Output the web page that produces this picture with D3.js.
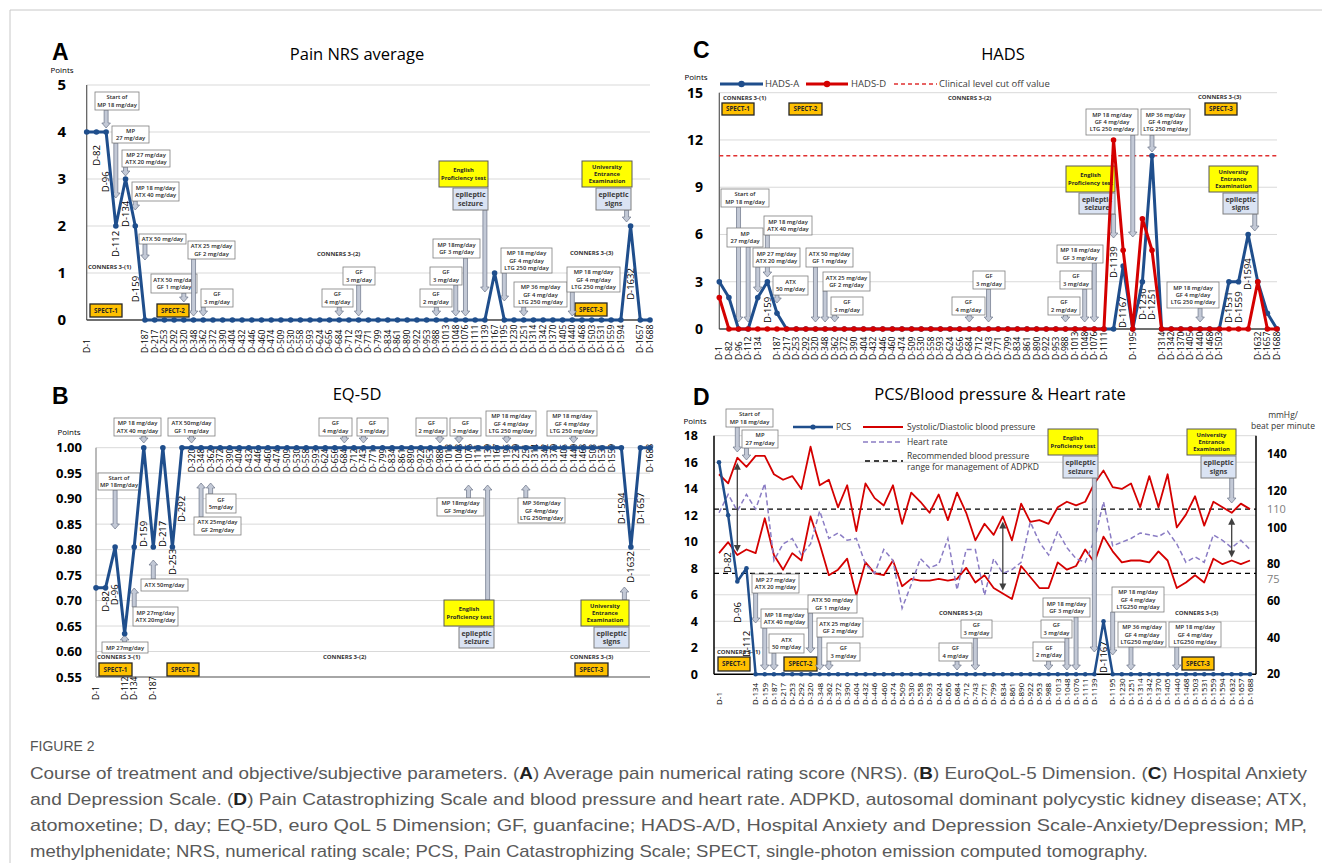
<!DOCTYPE html>
<html><head><meta charset="utf-8">
<script src="https://cdn.jsdelivr.net/npm/d3@7"></script>
<style>body{margin:0;background:#fff}svg{display:block}</style>
</head><body>
<svg id="chart" width="1322" height="863"></svg>
<script>
// ---------------- DATA ----------------
const categories = ["D-1","D-82","D-96","D-112","D-134","D-159","D-187","D-217","D-253","D-292",
 "D-320","D-348","D-362","D-372","D-390","D-404","D-432","D-446","D-460","D-474",
 "D-509","D-530","D-558","D-593","D-624","D-656","D-684","D-712","D-743","D-771",
 "D-799","D-834","D-861","D-890","D-922","D-953","D-988","D-1013","D-1048","D-1076",
 "D-1111","D-1139","D-1167","D-1195","D-1230","D-1251","D-1314","D-1342","D-1370","D-1405",
 "D-1440","D-1468","D-1503","D-1531","D-1559","D-1594","D-1632","D-1657","D-1688"];

const nrsValues = [4,4,4,2,3,2,0,0,0,0, 0,0,0,0,0,0,0,0,0,0, 0,0,0,0,0,0,0,0,0,0,
 0,0,0,0,0,0,0,0,0,0, 0,0,1,0,0,0,0,0,0,0, 0,0,0,0,0,0,2,0,0];

const eq5dValues = [0.725,0.725,0.805,0.635,0.805,1,0.805,1,0.805,1, 1,1,1,1,1,1,1,1,1,1,
 1,1,1,1,1,1,1,1,1,1, 1,1,1,1,1,1,1,1,1,1, 1,1,1,1,1,1,1,1,1,1, 1,1,1,1,1,1,0.805,1,1];

const hadsA = [3,2,0,0,2,3,1,0,0,0, 0,0,0,0,0,0,0,0,0,0, 0,0,0,0,0,0,0,0,0,0,
 0,0,0,0,0,0,0,0,0,0, 0,0,4,0,3,11,0,0,0,0, 0,0,0,3,3,6,3,1,0];
const hadsD = [2,0,0,0,0,0,0,0,0,0, 0,0,0,0,0,0,0,0,0,0, 0,0,0,0,0,0,0,0,0,0,
 0,0,0,0,0,0,0,0,0,0, 0,12,5,0,7,5,0,0,0,0, 0,0,0,0,0,0,3,0,0];
const hadsCutoff = 11;

const pcsValues = [16,12,7,8,0,0,0,0,0,0, 0,0,0,0,0,0,0,0,0,0, 0,0,0,0,0,0,0,0,0,0,
 0,0,0,0,0,0,0,0,0,0, 0,0,4,0,0,0,0,0,0,0, 0,0,0,0,0,0,0,0,0];
const systolic = [129,124,138,133,139,139,129,126,128,121, 144,123,126,111,123,98,124,116,112,123,
 102,119,114,108,118,104,119,108,93,102, 96,106,93,113,103,104,102,111,114,112,
 114,124,131,122,121,124,111,128,111,129, 100,107,117,101,114,111,108,113,110];
const diastolic = [86,92,85,88,86,105,85,77,86,82, 106,91,74,77,83,63,81,75,74,82,
 68,72,71,71,72,71,72,78,70,74, 67,64,61,79,73,67,67,81,77,79,
 88,81,95,87,81,82,82,81,87,82, 67,70,74,70,83,80,82,80,82];
const heartRate = [108,118,109,118,110,124,82,91,94,85, 91,109,94,97,93,94,80,75,88,82,
 56,69,83,78,80,94,66,88,88,63, 83,75,77,81,103,92,85,98,89,83,
 81,93,114,90,92,94,97,96,95,98, 91,81,84,81,96,93,89,93,88];
const bpRange = [75, 110];

const nrsTicks = [0,1,2,3,4,5];
const eq5dTicks = [0.55,0.60,0.65,0.70,0.75,0.80,0.85,0.90,0.95,1.00];
const hadsTicks = [0,3,6,9,12,15];
const pcsTicks = [0,2,4,6,8,10,12,14,16,18];
const bpTicks = [20,40,60,80,100,120,140];

// ---------------- STYLE ----------------
const svg = d3.select("#chart");
const FONT = "'Open Sans', 'Noto Sans', sans-serif";
const BLUE = "#1f4e8c", RED = "#d40000", PURPLE = "#8a7cc4", GRID = "#d9d9d9";
const bstyles = {
  drug:   {fill:"#fff", stroke:"#7f7f7f", sw:0.8, fs:5.8, fw:600, color:"#262626"},
  yellow: {fill:"#ffff00", stroke:"#595959", sw:1, fs:5.8, fw:700, color:"#262626"},
  blue:   {fill:"#dae3f3", stroke:"#7f7f7f", sw:1, fs:7, fw:700, color:"#3a3a3a"},
  spect:  {fill:"#ffc000", stroke:"#262626", sw:1.3, fs:6.2, fw:700, color:"#262626"}
};

function txt(g, x, y, t, o={}) {
  return g.append("text").attr("x",x).attr("y",y).text(t)
    .attr("font-family", o.ff||FONT).attr("font-size", o.fs||10)
    .attr("font-weight", o.fw||400).attr("fill", o.fill||"#000")
    .attr("text-anchor", o.anchor||"start");
}
function box(g, b, lines, st) {
  const s = bstyles[st];
  g.append("rect").attr("x",b[0]).attr("y",b[1]).attr("width",b[2]).attr("height",b[3])
    .attr("fill",s.fill).attr("stroke",s.stroke).attr("stroke-width",s.sw);
  const n = lines.length, lh = s.fs*1.22, cy = b[1]+b[3]/2;
  lines.forEach((t,k)=> txt(g, b[0]+b[2]/2, cy+(k-(n-1)/2)*lh, t, {fs:s.fs, fw:s.fw, fill:s.color, anchor:"middle"}).attr("dy","0.35em"));
}
function blockArrow(g, x, y1, y2) {
  const dir = Math.sign(y2-y1), hl = 5*dir, sw = 2, hw = 4.3, yb = y2-hl;
  const p = [[x-sw,y1],[x+sw,y1],[x+sw,yb],[x+hw,yb],[x,y2],[x-hw,yb],[x-sw,yb]];
  g.append("path").attr("d","M"+p.map(q=>q.join(",")).join("L")+"Z")
    .attr("fill","#c3c9d6").attr("stroke","#6a7386").attr("stroke-width",0.7);
}
function annotate(g, x, anns) {
  anns.forEach(a => {
    const ax = x(categories[a.c]) + (a.dx||0);
    if (a.ev) {
      blockArrow(g, ax, a.from, a.tip);
      box(g, a.yb, a.yt, "yellow");
      box(g, a.eb, a.et, "blue");
    } else {
      const bottom = a.b[1]+a.b[3];
      const from = a.tip > bottom ? bottom : a.b[1];
      blockArrow(g, ax, from, a.tip);
      box(g, a.b, a.t, "drug");
    }
  });
}
function marks(g, extra) {
  extra.texts.forEach(t => txt(g, t[1], t[2], t[0], {fs:6, fw:700, fill:"#333"}));
  extra.spect.forEach(s => box(g, s[1], [s[0]], "spect"));
}
function yAxis(g, y, ticks, fmt, xPos, fs) {
  const ax = g.append("g").attr("transform",`translate(${xPos},0)`)
    .call(d3.axisLeft(y).tickValues(ticks).tickFormat(fmt).tickSize(0).tickPadding(0));
  ax.select(".domain").remove();
  ax.selectAll("text").attr("font-family",FONT).attr("font-size",fs).attr("font-weight",700).attr("fill","#000");
}
function grid(g, y, ticks, x1, x2) {
  g.selectAll(null).data(ticks).join("line").attr("x1",x1).attr("x2",x2)
    .attr("y1",d=>y(d)).attr("y2",d=>y(d)).attr("stroke",GRID).attr("stroke-width",1);
}
function xLabels(g, x, posFn, fs) {
  categories.forEach(c => {
    const yb = posFn(c);
    if (yb == null) return;
    g.append("text").attr("transform",`translate(${x(c)},${yb}) rotate(-90)`)
      .attr("dy","0.35em").attr("font-family",FONT).attr("font-size",fs).attr("fill","#000").text(c);
  });
}
function series(g, x, y, vals, color, w, r) {
  const line = d3.line().x((d,i)=>x(categories[i])).y(d=>y(d));
  g.append("path").datum(vals).attr("d",line).attr("fill","none").attr("stroke",color)
    .attr("stroke-width",w).attr("stroke-linejoin","round");
  if (r) g.selectAll(null).data(vals).join("circle").attr("cx",(d,i)=>x(categories[i]))
    .attr("cy",d=>y(d)).attr("r",r).attr("fill",color);
}

// ---------------- FRAME ----------------
svg.append("line").attr("x1",10).attr("x2",10).attr("y1",10).attr("y2",863).attr("stroke","#c8c8c8");
svg.append("line").attr("x1",10).attr("x2",1322).attr("y1",10).attr("y2",10).attr("stroke","#c8c8c8");

// ---------------- PANEL A ----------------
{
  const g = svg.append("g");
  const x = d3.scalePoint().domain(categories).range([86.7, 650]);
  const y = d3.scaleLinear().domain([0,5]).range([320, 85]);
  txt(g, 52, 60, "A", {ff:"'Liberation Sans', Arial, sans-serif", fs:23, fw:700});
  txt(g, 357, 60, "Pain NRS average", {fs:16.5, anchor:"middle"});
  txt(g, 62, 73, "Points", {fs:8, anchor:"middle"});
  grid(g, y, nrsTicks.slice(1), 86.7, 650);
  yAxis(g, y, nrsTicks, d3.format("d"), 66, 15);
  g.append("line").attr("x1",86.7).attr("x2",86.7).attr("y1",85).attr("y2",320).attr("stroke","#595959").attr("stroke-width",1.2);
  g.append("line").attr("x1",86.7).attr("x2",650).attr("y1",320).attr("y2",320).attr("stroke","#404040").attr("stroke-width",1.5);
  const near = {"D-82":3.28,"D-96":2.72,"D-112":1.34,"D-134":1.98,"D-159":0.38,"D-1632":0.43};
  xLabels(g, x, c => near[c]!==undefined ? null : 353, 8.5);
  xLabels(g, x, c => near[c]!==undefined ? y(near[c]) : null, 9.5);
  marks(g, {texts:[["CONNERS 3-(1)",88,269],["CONNERS 3-(2)",317,256],["CONNERS 3-(3)",570,255]],
    spect:[["SPECT-1",[90,304,32,13]],["SPECT-2",[157,304,32,13]],["SPECT-3",[575,303,32,13]]]});
  annotate(g, x, [
    {t:["Start of","MP 18 mg/day"], b:[95,92,44,18], c:2, tip:128},
    {t:["MP","27 mg/day"], b:[112,126,37,17], c:3, tip:198},
    {t:["MP 27 mg/day","ATX 20 mg/day"], b:[122,150,48,17], c:4, tip:176},
    {t:["MP 18 mg/day","ATX 40 mg/day"], b:[132,182,47,19], c:5, tip:210},
    {t:["ATX 50 mg/day"], b:[139,234,47,10], c:6, tip:260},
    {t:["ATX 50 mg/day","GF 1 mg/day"], b:[151,274,46,19], c:10, tip:302},
    {t:["ATX 25 mg/day","GF 2 mg/day"], b:[188,241,47,18], c:11, tip:316},
    {t:["GF","3 mg/day"], b:[201,289,32,18], c:12, tip:316},
    {t:["GF","4 mg/day"], b:[322,289,31,18], c:26, tip:316},
    {t:["GF","3 mg/day"], b:[343,267,32,18], c:28, tip:316},
    {t:["GF","2 mg/day"], b:[420,289,32,18], c:36, tip:316},
    {t:["GF","3 mg/day"], b:[430,267,32,18], c:38, tip:316},
    {t:["MP 18mg/day","GF 3 mg/day"], b:[433,239,47,19], c:39, tip:316},
    {t:["MP 18 mg/day","GF 4 mg/day","LTG 250 mg/day"], b:[501,248,51,25], c:43, tip:301},
    {t:["MP 36 mg/day","GF 4 mg/day","LTG 250 mg/day"], b:[514,282,53,25], c:45, tip:316},
    {t:["MP 18 mg/day","GF 4 mg/day","LTG 250 mg/day"], b:[567,267,53,25], c:50, tip:316},
    {ev:true, yt:["English","Proficiency test"], yb:[439,161,49,26], et:["epileptic","seizure"], eb:[453,188,35,22], c:41, from:210, tip:292},
    {ev:true, yt:["University","Entrance","Examination"], yb:[582,161,50,26], et:["epileptic","signs"], eb:[596,188,35,22], c:56, dx:-4, from:210, tip:222}
  ]);
  series(g, x, y, nrsValues, BLUE, 3, 2.8);
}

// ---------------- PANEL B ----------------
{
  const g = svg.append("g");
  const x = d3.scalePoint().domain(categories).range([96, 650]);
  const y = d3.scaleLinear().domain([0.55,1.0]).range([677, 447.7]);
  txt(g, 52, 404, "B", {ff:"'Liberation Sans', Arial, sans-serif", fs:23, fw:700});
  txt(g, 357, 400, "EQ-5D", {fs:16.5, anchor:"middle"});
  txt(g, 69, 435, "Points", {fs:8, anchor:"middle"});
  grid(g, y, eq5dTicks.slice(1), 96, 650);
  yAxis(g, y, eq5dTicks, d3.format(".2f"), 82, 13);
  g.append("line").attr("x1",96).attr("x2",96).attr("y1",447.7).attr("y2",677).attr("stroke","#8c8c8c").attr("stroke-width",1.2);
  g.append("line").attr("x1",96).attr("x2",650).attr("y1",677).attr("y2",677).attr("stroke","#a6a6a6").attr("stroke-width",2);
  const near = {"D-82":0.678,"D-96":0.691,"D-159":0.805,"D-217":0.805,"D-253":0.75,"D-292":0.854,"D-1594":0.85,"D-1657":0.85,"D-1632":0.735};
  const bottomRow = ["D-1","D-112","D-134","D-187"];
  xLabels(g, x, c => near[c]!==undefined ? null : (bottomRow.includes(c) ? 700 : y(0.952)), 8.5);
  xLabels(g, x, c => near[c]!==undefined ? y(near[c]) : null, 9.5);
  marks(g, {texts:[["CONNERS 3-(1)",97,659],["CONNERS 3-(2)",323,659],["CONNERS 3-(3)",570,659]],
    spect:[["SPECT-1",[99,663,33,13]],["SPECT-2",[167,663,32,13]],["SPECT-3",[575,663,33,13]]]});
  annotate(g, x, [
    {t:["MP 18 mg/day","ATX 40 mg/day"], b:[114,418,47,18], c:5, tip:443},
    {t:["ATX 50mg/day","GF 1 mg/day"], b:[168,418,47,18], c:10, tip:443},
    {t:["GF","4 mg/day"], b:[319,418,33,18], c:26, tip:443},
    {t:["GF","3 mg/day"], b:[357,418,31,18], c:28, tip:443},
    {t:["GF","2 mg/day"], b:[416,418,31,18], c:36, tip:443},
    {t:["GF","3 mg/day"], b:[450,418,31,18], c:38, tip:443},
    {t:["MP 18 mg/day","GF 4 mg/day","LTG 250 mg/day"], b:[486,411,50,25], c:43, tip:443},
    {t:["MP 18 mg/day","GF 4 mg/day","LTG 250 mg/day"], b:[547,411,50,25], c:50, tip:443},
    {t:["Start of","MP 18mg/day"], b:[98,473,42,17], c:2, tip:529},
    {t:["ATX 25mg/day","GF 2mg/day"], b:[194,517,47,18], c:11, tip:483},
    {t:["GF","5mg/day"], b:[206,494,30,19], c:12, tip:483},
    {t:["ATX 50mg/day"], b:[141,579,47,12], c:6, tip:560},
    {t:["MP 27mg/day","ATX 20mg/day"], b:[133,607,45,19], c:4, tip:588},
    {t:["MP 27mg/day"], b:[102,642,46,11], c:3, tip:635},
    {t:["MP 18mg/day","GF 3mg/day"], b:[437,498,47,18], c:39, tip:485},
    {t:["MP 36mg/day","GF 4mg/day","LTG 250mg/day"], b:[518,498,47,25], c:45, tip:485},
    {ev:true, yt:["English","Proficiency test"], yb:[444,600,50,26], et:["epileptic","seizure"], eb:[459,627,35,21], c:41, from:600, tip:485},
    {ev:true, yt:["University","Entrance","Examination"], yb:[581,600,48,26], et:["epileptic","signs"], eb:[594,627,35,21], c:56, dx:-6.5, from:600, tip:587}
  ]);
  series(g, x, y, eq5dValues, BLUE, 3, 2.8);
}

// ---------------- PANEL C ----------------
{
  const g = svg.append("g");
  const x = d3.scalePoint().domain(categories).range([719.3, 1277]);
  const y = d3.scaleLinear().domain([0,15]).range([329, 92.7]);
  txt(g, 693, 58, "C", {ff:"'Liberation Sans', Arial, sans-serif", fs:23, fw:700});
  txt(g, 1003, 60, "HADS", {fs:16.5, anchor:"middle"});
  txt(g, 696, 80, "Points", {fs:8, anchor:"middle"});
  grid(g, y, hadsTicks.slice(1), 719.3, 1277);
  yAxis(g, y, hadsTicks, d3.format("d"), 703, 14);
  g.append("line").attr("x1",719.3).attr("x2",719.3).attr("y1",92.7).attr("y2",329).attr("stroke","#595959").attr("stroke-width",1.2);
  g.append("line").attr("x1",719.3).attr("x2",1277).attr("y1",329).attr("y2",329).attr("stroke","#404040").attr("stroke-width",1.5);
  g.append("line").attr("x1",719.3).attr("x2",1277).attr("y1",y(hadsCutoff)).attr("y2",y(hadsCutoff))
    .attr("stroke","#e03030").attr("stroke-width",1.5).attr("stroke-dasharray","4,3");
  // legend
  const ly = 84;
  g.append("line").attr("x1",720).attr("x2",763).attr("y1",ly).attr("y2",ly).attr("stroke",BLUE).attr("stroke-width",3);
  g.append("circle").attr("cx",741.5).attr("cy",ly).attr("r",3.2).attr("fill",BLUE);
  txt(g, 765, ly, "HADS-A", {fs:9.5, fill:"#404040"}).attr("dy","0.35em");
  g.append("line").attr("x1",806).attr("x2",848).attr("y1",ly).attr("y2",ly).attr("stroke",RED).attr("stroke-width",3);
  g.append("circle").attr("cx",827).attr("cy",ly).attr("r",3.2).attr("fill",RED);
  txt(g, 851, ly, "HADS-D", {fs:9.5, fill:"#404040"}).attr("dy","0.35em");
  g.append("line").attr("x1",894).attr("x2",937).attr("y1",ly).attr("y2",ly).attr("stroke","#e03030").attr("stroke-width",1.5).attr("stroke-dasharray","4,3");
  txt(g, 939, ly, "Clinical level cut off value", {fs:9.5, fill:"#404040"}).attr("dy","0.35em");
  const near = {"D-159":0.38,"D-1139":3.24,"D-1167":0.06,"D-1230":0.57,"D-1251":0.57,"D-1531":0.38,"D-1559":0.38,"D-1594":2.48};
  xLabels(g, x, c => near[c]!==undefined ? null : 360, 8.5);
  xLabels(g, x, c => near[c]!==undefined ? y(near[c]) : null, 9.5);
  marks(g, {texts:[["CONNERS 3-(1)",723,100],["CONNERS 3-(2)",948,100],["CONNERS 3-(3)",1198,99]],
    spect:[["SPECT-1",[722,103,32,12]],["SPECT-2",[789,103,33,12]],["SPECT-3",[1205,103,32,12]]]});
  annotate(g, x, [
    {t:["Start of","MP 18 mg/day"], b:[721,189,48,18], c:2, tip:322},
    {t:["MP","27 mg/day"], b:[727,228,36,19], c:3, tip:322},
    {t:["MP 18 mg/day","ATX 40 mg/day"], b:[764,216,48,19], c:5, tip:277},
    {t:["MP 27 mg/day","ATX 20 mg/day"], b:[753,248,47,19], c:4, tip:292},
    {t:["ATX","50 mg/day"], b:[773,276,35,19], c:6, tip:303},
    {t:["ATX 50 mg/day","GF 1 mg/day"], b:[806,248,47,19], c:10, tip:322},
    {t:["ATX 25 mg/day","GF 2 mg/day"], b:[823,272,47,19], c:11, tip:322},
    {t:["GF","3 mg/day"], b:[831,297,32,18], c:12, tip:322},
    {t:["GF","4 mg/day"], b:[952,297,33,18], c:26, tip:322},
    {t:["GF","3 mg/day"], b:[973,271,32,18], c:28, tip:322},
    {t:["GF","2 mg/day"], b:[1048,297,32,18], c:36, tip:322},
    {t:["GF","3 mg/day"], b:[1060,271,32,18], c:38, tip:322},
    {t:["MP 18 mg/day","GF 3 mg/day"], b:[1057,245,46,18], c:39, tip:322},
    {t:["MP 18 mg/day","GF 4 mg/day","LTG 250 mg/day"], b:[1086,109,52,26], c:43, tip:237},
    {t:["MP 36 mg/day","GF 4 mg/day","LTG 250 mg/day"], b:[1141,109,49,26], c:45, tip:152},
    {t:["MP 18 mg/day","GF 4 mg/day","LTG 250 mg/day"], b:[1167,282,52,26], c:50, tip:322},
    {ev:true, yt:["English","Proficiency test"], yb:[1066,166,49,26], et:["epileptic","seizure"], eb:[1079,193,36,21], c:41, from:214, tip:238},
    {ev:true, yt:["University","Entrance","Examination"], yb:[1209,166,49,26], et:["epileptic","signs"], eb:[1223,193,35,21], c:55, dx:6.6, from:214, tip:231}
  ]);
  series(g, x, y, hadsA, BLUE, 3, 2.8);
  series(g, x, y, hadsD, RED, 3, 2.8);
}

// ---------------- PANEL D ----------------
{
  const g = svg.append("g");
  const x = d3.scalePoint().domain(categories).range([719, 1250]);
  const y = d3.scaleLinear().domain([0,18]).range([674.3, 435.7]);
  const yR = d3.scaleLinear().domain([20,150]).range([674.3, 435.7]);
  txt(g, 693, 405, "D", {ff:"'Liberation Sans', Arial, sans-serif", fs:23, fw:700});
  txt(g, 1000, 400, "PCS/Blood pressure & Heart rate", {fs:16.5, anchor:"middle"});
  txt(g, 695, 424, "Points", {fs:8, anchor:"middle"});
  txt(g, 1283, 418, "mmHg/", {fs:8.5, anchor:"middle", fill:"#333"});
  txt(g, 1283, 429, "beat per minute", {fs:8.5, anchor:"middle", fill:"#333"});
  grid(g, y, pcsTicks.slice(1), 714, 1256);
  yAxis(g, y, pcsTicks, d3.format("d"), 698, 12.5);
  const ra = g.append("g").attr("transform","translate(1267,0)")
    .call(d3.axisRight(yR).tickValues(bpTicks).tickFormat(d3.format("d")).tickSize(0).tickPadding(0));
  ra.select(".domain").remove();
  ra.selectAll("text").attr("font-family",FONT).attr("font-size",11.5).attr("font-weight",700).attr("fill","#000");
  // grey reference labels, nudged apart from the bold ticks like the original
  [[110,0],[75,5.5]].forEach(([v,off]) => txt(g, 1267, yR(v)+off, String(v), {fs:11, fill:"#808080"}).attr("dy","0.35em"));
  g.append("line").attr("x1",714).attr("x2",714).attr("y1",435.7).attr("y2",674.3).attr("stroke","#000").attr("stroke-width",1.5);
  g.append("line").attr("x1",1256).attr("x2",1256).attr("y1",435.7).attr("y2",674.3).attr("stroke","#000").attr("stroke-width",1.5);
  g.append("line").attr("x1",714).attr("x2",1256).attr("y1",674.3).attr("y2",674.3).attr("stroke","#000").attr("stroke-width",1.5);
  bpRange.forEach(v => g.append("line").attr("x1",714).attr("x2",1256).attr("y1",yR(v)).attr("y2",yR(v))
    .attr("stroke","#000").attr("stroke-width",1.3).attr("stroke-dasharray","5,4"));
  // legend
  g.append("line").attr("x1",793).attr("x2",833).attr("y1",427).attr("y2",427).attr("stroke",BLUE).attr("stroke-width",2.5);
  g.append("circle").attr("cx",813).attr("cy",427).attr("r",2.6).attr("fill",BLUE);
  txt(g, 836, 427, "PCS", {fs:8.5, fill:"#333"}).attr("dy","0.35em");
  g.append("line").attr("x1",863).attr("x2",903).attr("y1",427).attr("y2",427).attr("stroke",RED).attr("stroke-width",1.8);
  txt(g, 907, 427, "Systolic/Diastolic blood pressure", {fs:8.5, fill:"#333"}).attr("dy","0.35em");
  g.append("line").attr("x1",863).attr("x2",903).attr("y1",442).attr("y2",442).attr("stroke",PURPLE).attr("stroke-width",1.5).attr("stroke-dasharray","5,3");
  txt(g, 907, 442, "Heart rate", {fs:8.5, fill:"#333"}).attr("dy","0.35em");
  g.append("line").attr("x1",865).attr("x2",903).attr("y1",461).attr("y2",461).attr("stroke","#000").attr("stroke-width",1.3).attr("stroke-dasharray","5,4");
  txt(g, 907, 456, "Recommended blood pressure", {fs:8.5, fill:"#333"}).attr("dy","0.35em");
  txt(g, 907, 467, "range for management of ADPKD", {fs:8.5, fill:"#333"}).attr("dy","0.35em");
  // x labels
  const near = {"D-82":7.64,"D-96":3.87,"D-112":1.3,"D-1167":0.1};
  xLabels(g, x, c => near[c]!==undefined ? null : 705, 8);
  xLabels(g, x, c => near[c]!==undefined ? y(near[c]) : null, 9.5);
  // series BP & HR
  series(g, x, yR, systolic, RED, 1.8, 0);
  series(g, x, yR, diastolic, RED, 1.8, 0);
  const hrLine = d3.line().x((d,i)=>x(categories[i])).y(d=>yR(d));
  g.append("path").datum(heartRate).attr("d",hrLine).attr("fill","none").attr("stroke",PURPLE)
    .attr("stroke-width",1.5).attr("stroke-dasharray","5,3");
  // double arrows (BP range markers)
  [2,31,56].forEach(i => {
    const xx = x(categories[i]), y1 = yR(systolic[i])+5, y2 = yR(diastolic[i])-3;
    g.append("line").attr("x1",xx).attr("x2",xx).attr("y1",y1+5).attr("y2",y2-5).attr("stroke","#404040").attr("stroke-width",1.3);
    g.append("path").attr("d",`M${xx},${y1}L${xx-3.5},${y1+7}L${xx+3.5},${y1+7}Z`).attr("fill","#404040");
    g.append("path").attr("d",`M${xx},${y2}L${xx-3.5},${y2-7}L${xx+3.5},${y2-7}Z`).attr("fill","#404040");
  });
  marks(g, {texts:[["CONNERS 3-(1)",717,654],["CONNERS 3-(2)",939,615],["CONNERS 3-(3)",1175,615]],
    spect:[["SPECT-1",[718,657,32,14]],["SPECT-2",[784,657,33,14]],["SPECT-3",[1182,657,32,13]]]});
  annotate(g, x, [
    {t:["Start of","MP 18 mg/day"], b:[726,409,47,18], c:2, tip:452},
    {t:["MP","27 mg/day"], b:[742,430,36,18], c:3, tip:460},
    {t:["MP 27 mg/day","ATX 20 mg/day"], b:[752,574,47,19], c:4, tip:623},
    {t:["MP 18 mg/day","ATX 40 mg/day"], b:[761,609,47,19], c:5, tip:670},
    {t:["ATX","50 mg/day"], b:[769,634,35,19], c:6, tip:670},
    {t:["ATX 50 mg/day","GF 1 mg/day"], b:[808,595,49,18], c:10, tip:653},
    {t:["ATX 25 mg/day","GF 2 mg/day"], b:[817,618,46,19], c:11, tip:670},
    {t:["GF","3 mg/day"], b:[827,643,33,18], c:12, tip:670},
    {t:["GF","4 mg/day"], b:[939,643,33,18], c:26, tip:670},
    {t:["GF","3 mg/day"], b:[961,620,31,18], c:28, tip:670},
    {t:["GF","2 mg/day"], b:[1033,642,32,19], c:36, tip:670},
    {t:["GF","3 mg/day"], b:[1041,620,31,18], c:38, tip:670},
    {t:["MP 18 mg/day","GF 3 mg/day"], b:[1043,598,47,19], c:39, tip:670},
    {t:["MP 18 mg/day","GF 4 mg/day","LTG250 mg/day"], b:[1112,587,52,25], c:43, tip:655},
    {t:["MP 36 mg/day","GF 4 mg/day","LTG250 mg/day"], b:[1118,622,48,25], c:45, tip:670},
    {t:["MP 18 mg/day","GF 4 mg/day","LTG250 mg/day"], b:[1169,622,52,25], c:50, tip:670},
    {ev:true, yt:["English","Proficiency test"], yb:[1048,429,50,26], et:["epileptic","seizure"], eb:[1063,456,35,22], c:41, from:478, tip:652},
    {ev:true, yt:["University","Entrance","Examination"], yb:[1187,429,49,26], et:["epileptic","signs"], eb:[1201,456,35,22], c:56, from:478, tip:503}
  ]);
  series(g, x, y, pcsValues, BLUE, 2.5, 2.3);
}

// ---------------- CAPTION ----------------
{
  const CF = "'Liberation Sans Narrow', 'Arial Narrow', 'Liberation Sans', sans-serif";
  txt(svg, 30, 751, "FIGURE 2", {ff:CF, fs:14, fill:"#555"});
  const lines = [
    ["Course of treatment and objective/subjective parameters. (A) Average pain numerical rating score (NRS). (B) EuroQoL-5 Dimension. (C) Hospital Anxiety", 1277],
    ["and Depression Scale. (D) Pain Catastrophizing Scale and blood pressure and heart rate. ADPKD, autosomal dominant polycystic kidney disease; ATX,", 1277],
    ["atomoxetine; D, day; EQ-5D, euro QoL 5 Dimension; GF, guanfacine; HADS-A/D, Hospital Anxiety and Depression Scale-Anxiety/Depression; MP,", 1277],
    ["methylphenidate; NRS, numerical rating scale; PCS, Pain Catastrophizing Scale; SPECT, single-photon emission computed tomography.", 1118]
  ];
  lines.forEach((l,k) => {
    const t = svg.append("text").attr("x",30).attr("y",779+k*26).attr("font-family",CF)
      .attr("font-size",17).attr("fill","#595959").attr("textLength",l[1]).attr("lengthAdjust","spacingAndGlyphs");
    l[0].split(/(\([A-D]\))/).forEach(part => {
      const m = part.match(/^\(([A-D])\)$/);
      if (m) { t.append("tspan").text("("); t.append("tspan").attr("font-weight",700).attr("fill","#222").text(m[1]); t.append("tspan").text(")"); }
      else if (part) t.append("tspan").text(part);
    });
  });
}
</script>
</body></html>
